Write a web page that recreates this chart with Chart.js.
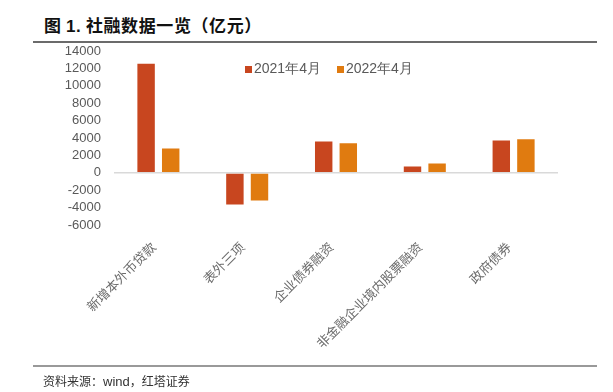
<!DOCTYPE html>
<html>
<head>
<meta charset="utf-8">
<script src="https://cdn.jsdelivr.net/npm/chart.js@4"></script>
<style>
  html, body { margin: 0; padding: 0; background: #fff; }
  body { width: 613px; height: 392px; position: relative; overflow: hidden; }
  #wrap { position: absolute; left: 0; top: 0; width: 613px; height: 392px; }
  .title {
    position: absolute; left: 44px; top: 15px;
    font-family: "Noto Sans CJK SC", sans-serif; font-size: 17px; font-weight: 700;
    color: #111; white-space: nowrap; line-height: 20px; letter-spacing: 0.6px;
  }
  .title b { font-family: "Liberation Sans", Arial, sans-serif; }
  .rule { position: absolute; left: 33px; width: 564px; height: 2px; }
  .legend {
    position: absolute; top: 60px; left: 245px; white-space: nowrap;
    font-family: "Liberation Sans", Arial, sans-serif; font-size: 14px; color: #595959;
  }
  .legend span { display: inline-block; vertical-align: middle; }
  .legend .sw { width: 7px; height: 7px; margin-right: 2px; }
  .source {
    position: absolute; left: 43px; top: 372px;
    font-family: "Noto Sans CJK SC", sans-serif; font-size: 12px; color: #333;
  }
  .source i { font-style: normal; font-family: "Liberation Sans", Arial, sans-serif; font-size: 13px; }
</style>
</head>
<body>
<div class="title">图 <b>1.</b> 社融数据一览（亿元）</div>
<div class="rule" style="top:41px;background:#6b6b6b;"></div>
<div id="wrap"><canvas id="chart" width="613" height="392"></canvas></div>
<div class="legend" id="legend"></div>
<div class="rule" style="top:365px;background:#999;"></div>
<div class="source">资料来源：<i>wind</i>，红塔证券</div>

<script>
// ── Data ──────────────────────────────────────────────────────
const categories = ['新增本外币贷款', '表外三项', '企业债券融资', '非金融企业境内股票融资', '政府债券'];
const seriesNames = ['2021年4月', '2022年4月'];
const apr2021 = [12650, -3750, 3700, 840, 3820];
const apr2022 = [2900, -3300, 3500, 1180, 3970];
const yTicks = [-6000, -4000, -2000, 0, 2000, 4000, 6000, 8000, 10000, 12000, 14000];

const colors = ['#C8461F', '#E07B10'];

// ── Legend (sits inside the plot, top centre) ─────────────────
const legendEl = document.getElementById('legend');
seriesNames.forEach((name, i) => {
    const sw = document.createElement('span');
    sw.className = 'sw';
    sw.style.background = colors[i];
    const tx = document.createElement('span');
    tx.textContent = name;
    tx.style.marginRight = i === 0 ? '16px' : '0';
    legendEl.appendChild(sw);
    legendEl.appendChild(tx);
});

// ── Chart ─────────────────────────────────────────────────────
new Chart(document.getElementById('chart'), {
    type: 'bar',
    data: {
        labels: categories,
        datasets: [apr2021, apr2022].map((d, i) => ({
            label: seriesNames[i],
            data: d,
            backgroundColor: colors[i],
            borderColor: 'rgba(255,255,255,0.45)',
            borderWidth: 1,
            categoryPercentage: 0.554,
            barPercentage: 0.79
        }))
    },
    options: {
        responsive: false,
        animation: false,
        layout: { padding: { left: 64, right: 55, top: 51, bottom: 0 } },
        plugins: { legend: { display: false }, tooltip: { enabled: false } },
        scales: {
            x: {
                grid: { display: false, drawTicks: false },
                border: { display: false },
                ticks: {
                    autoSkip: false,
                    minRotation: 45,
                    maxRotation: 45,
                    padding: 14,
                    labelOffset: -5,
                    color: '#6b6b6b',
                    font: { family: 'Noto Sans CJK SC', size: 13 }
                },
                afterFit: s => { s.height = 167; }
            },
            y: {
                min: yTicks[0],
                max: yTicks[yTicks.length - 1],
                afterBuildTicks: s => { s.ticks = yTicks.map(v => ({ value: v })); },
                grid: {
                    drawTicks: false,
                    color: c => c.tick && c.tick.value === 0 ? '#D9D9D9' : 'rgba(0,0,0,0)',
                    lineWidth: 1.5
                },
                border: { display: false },
                ticks: {
                    autoSkip: false,
                    padding: 13,
                    color: '#595959',
                    font: { family: 'Liberation Sans', size: 13 },
                    callback: v => String(v)
                },
                afterFit: s => { s.width = 50; }
            }
        }
    }
});
</script>
</body>
</html>
